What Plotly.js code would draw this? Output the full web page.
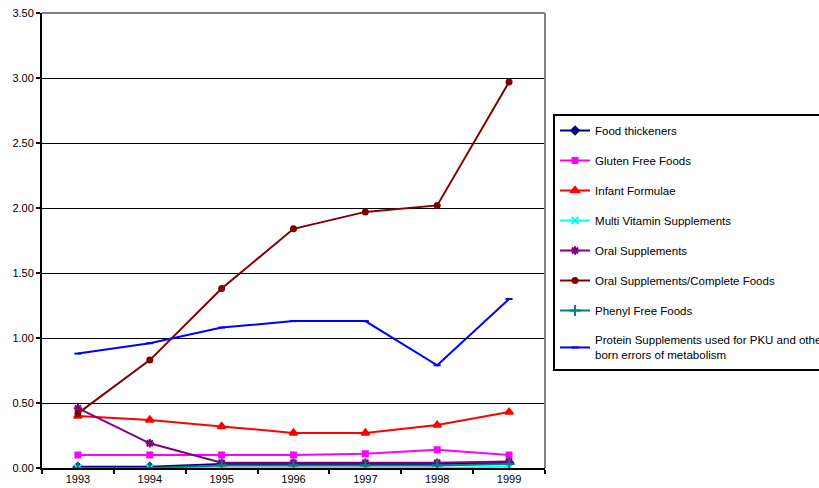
<!DOCTYPE html>
<html>
<head>
<meta charset="utf-8">
<script src="https://cdn.plot.ly/plotly-3.0.1.min.js"></script>
<style>html,body{margin:0;padding:0;background:#fff;} #chart{width:819px;height:488px;}</style>
</head>
<body>
<div id="chart"></div>
<script>
var years = ["1993", "1994", "1995", "1996", "1997", "1998", "1999"];
var foodThickeners = [0.01, 0.01, 0.03, 0.03, 0.03, 0.03, 0.04];
var glutenFree = [0.10, 0.10, 0.10, 0.10, 0.11, 0.14, 0.10];
var infantFormulae = [0.40, 0.37, 0.32, 0.27, 0.27, 0.33, 0.43];
var multiVitamin = [0.00, 0.00, 0.00, 0.00, 0.00, 0.00, 0.01];
var oralSupplements = [0.46, 0.19, 0.04, 0.04, 0.04, 0.04, 0.05];
var oralComplete = [0.42, 0.83, 1.38, 1.84, 1.97, 2.02, 2.97];
var phenylFree = [0.00, 0.00, 0.02, 0.02, 0.02, 0.02, 0.03];
var proteinPKU = [0.88, 0.96, 1.08, 1.13, 1.13, 0.79, 1.30];

var names = ["Food thickeners", "Gluten Free Foods", "Infant Formulae", "Multi Vitamin Supplements",
  "Oral Supplements", "Oral Supplements/Complete Foods", "Phenyl Free Foods",
  "Protein Supplements used for PKU and other in-<br>born errors of metabolism"];
var series = [foodThickeners, glutenFree, infantFormulae, multiVitamin, oralSupplements, oralComplete, phenylFree, proteinPKU];
var colors = ["#000080", "#FF00FF", "#FF0000", "#00FFFF", "#800080", "#800000", "#008080", "#0000FF"];
var symbols = ["diamond", "square", "triangle-up", "x-thin-open", "asterisk-open", "circle", "cross-thin-open", "line-ew-open"];
var sizes = [6, 5, 7, 7, 7, 5, 8, 5];

var data = series.map(function (s, i) {
  return {
    x: years, y: s, name: names[i], type: "scatter", mode: "lines+markers",
    legendgroup: "g" + i,
    line: {color: colors[i], width: 2},
    marker: {symbol: symbols[i], size: sizes[i], color: colors[i], line: {color: colors[i], width: 2}}
  };
});

var layout = {
  width: 819, height: 488,
  margin: {l: 42, r: 274, t: 13, b: 20, autoexpand: false},
  paper_bgcolor: "#fff", plot_bgcolor: "#fff",
  font: {family: "Liberation Sans, Arial, sans-serif", size: 11, color: "#000"},
  showlegend: true,
  legend: {
    x: 1.016, xanchor: "left", y: 0.778, yanchor: "top",
    bgcolor: "#fff", bordercolor: "#000", borderwidth: 2,
    font: {size: 11.5, color: "#000"},
    traceorder: "grouped", tracegroupgap: 11, itemwidth: 30
  },
  xaxis: {
    type: "category", range: [-0.5, 6.5], tickson: "boundaries",
    ticks: "outside", ticklen: 4, tickwidth: 2, tickcolor: "#000",
    showline: true, linecolor: "#000", linewidth: 2, showgrid: false,
    zeroline: false, tickfont: {size: 11}, fixedrange: true
  },
  yaxis: {
    range: [0, 3.5], dtick: 0.5, tick0: 0, tickformat: ".2f",
    ticks: "outside", ticklen: 4, tickwidth: 2, tickcolor: "#000",
    showline: true, linecolor: "#000", linewidth: 2,
    showgrid: true, gridcolor: "#000", gridwidth: 1, zeroline: false,
    tickfont: {size: 11}, fixedrange: true
  },
  shapes: [
    {type: "line", xref: "paper", yref: "paper", x0: 0, x1: 1, y0: 1, y1: 1, line: {color: "#808080", width: 2}},
    {type: "line", xref: "paper", yref: "paper", x0: 1, x1: 1, y0: 0, y1: 1, line: {color: "#808080", width: 2}}
  ]
};

Plotly.newPlot("chart", data, layout, {displayModeBar: false, staticPlot: true});
</script>
</body>
</html>
